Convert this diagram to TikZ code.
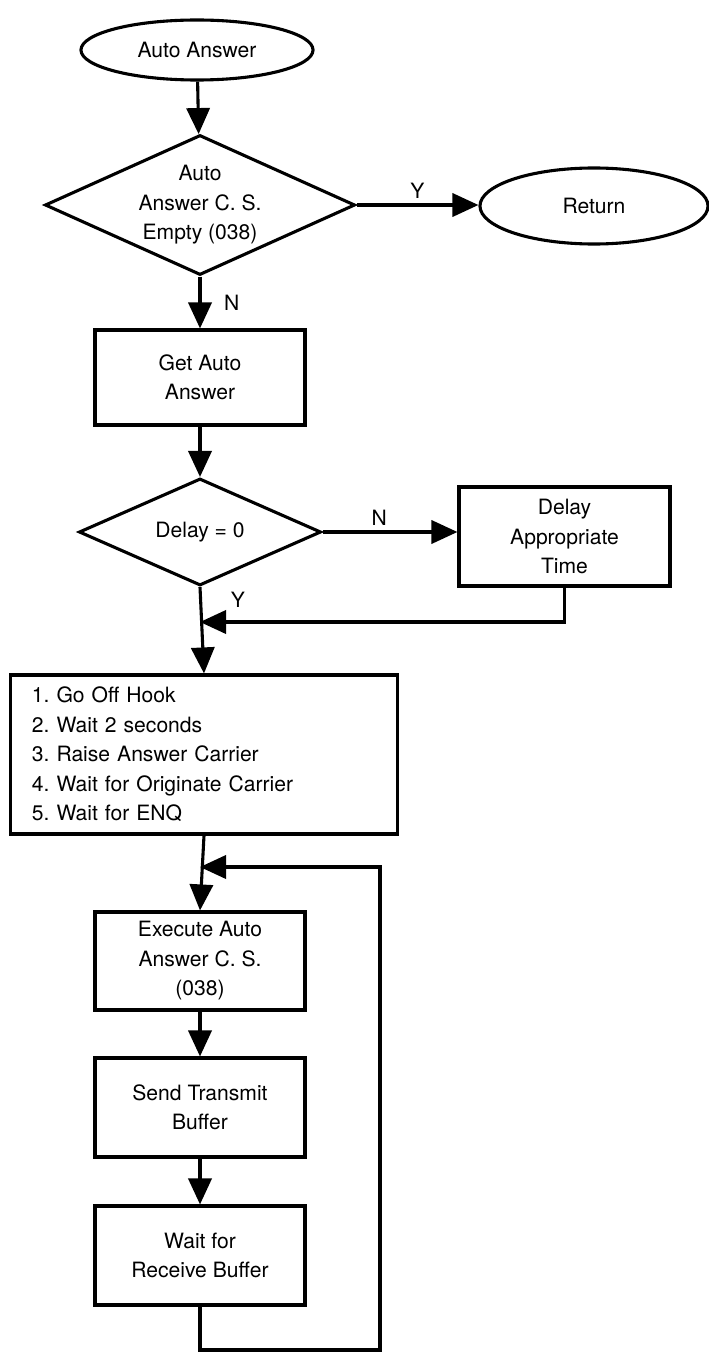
\documentclass[tikz,border=0pt]{standalone}
\usepackage{fontspec}
\setmainfont{TeX Gyre Heros}
\usepackage{tikz}
\usetikzlibrary{arrows.meta,
                positioning,
                shapes.geometric
                }
\frenchspacing

\begin{document}
\begin{tikzpicture}[x=0.025cm, y=-0.025cm,
    font=\fontsize{15}{21}\selectfont,
    terminal/.style={draw, ellipse, line width=2.2pt, inner sep=0pt},
    decision/.style={draw, diamond, aspect=2.2, line width=2.2pt, inner sep=0pt, align=center},
    process/.style={draw, rectangle, line width=2.2pt, align=center, minimum width=5.25cm, minimum height=2.45cm},
    arrow/.style={line width=2.2pt, -{Triangle[length=0.65cm, width=0.58cm]}}]
  \useasboundingbox (0,0) rectangle (709,1353);

  % top part
  \node[terminal, minimum width=5.8cm, minimum height=1.5cm] (start) at (197,50) {Auto Answer};
  \node[decision, minimum width=7.75cm, minimum height=3.5cm] (csempty) at (200,205) {Auto\\Answer C. S.\\Empty (038)};
  \node[terminal, minimum width=5.7cm, minimum height=1.9cm] (ret) at (594,206) {Return};
  \node[process, minimum height=2.375cm] (getaa) at (200,377.5) {Get Auto\\Answer};

  % delay branch
  \node[decision, minimum width=6.05cm, minimum height=2.675cm] (delayzero) at (200,532) {Delay = 0};
  \node[process, minimum width=5.275cm, minimum height=2.475cm] (delaytime) at (564.5,536.5) {Delay\\Appropriate\\Time};
  \coordinate (joindelay) at (200,622);

  \node[process, minimum width=9.65cm, minimum height=3.975cm, align=left,
        text width=8.6cm, inner xsep=0.525cm] (offhook) at (204,754.5)
    {1. Go Off Hook\\2. Wait 2 seconds\\3. Raise Answer Carrier\\4. Wait for Originate Carrier\\5. Wait for ENQ};

  % loop
  \coordinate (joinloop) at (200,867);
  \node[process] (execaa) at (200,961) {Execute Auto\\Answer C. S.\\(038)};
  \node[process, minimum height=2.475cm] (sendbuf) at (200,1107.5) {Send Transmit\\Buffer};
  \node[process, minimum height=2.475cm] (waitbuf) at (200,1255.5) {Wait for\\Receive Buffer};
  \coordinate (loopcorner) at (380,1350);

  \draw[arrow] (start) -- (csempty);
  \draw[arrow] (csempty.east) -- (csempty.east -| ret.west) node[midway, above] {Y};
  \draw[arrow] (csempty.south) -- (getaa.north) node[midway, right=0.45cm] {N};
  \draw[arrow] (getaa) -- (delayzero);
  \draw[arrow] (delayzero.east) -- (delayzero.east -| delaytime.west) node[pos=0.42, above] {N};
  \draw[arrow] (delaytime.south) |- (joindelay);
  \draw[arrow] (delayzero.south) -- (offhook.north) node[pos=0.15, right=0.6cm] {Y};
  \draw[arrow] (offhook.south) -- (execaa.north);
  \draw[arrow] (execaa) -- (sendbuf);
  \draw[arrow] (sendbuf) -- (waitbuf);
  \draw[arrow] (waitbuf.south) |- (loopcorner) |- (joinloop);

\end{tikzpicture}
\end{document}
